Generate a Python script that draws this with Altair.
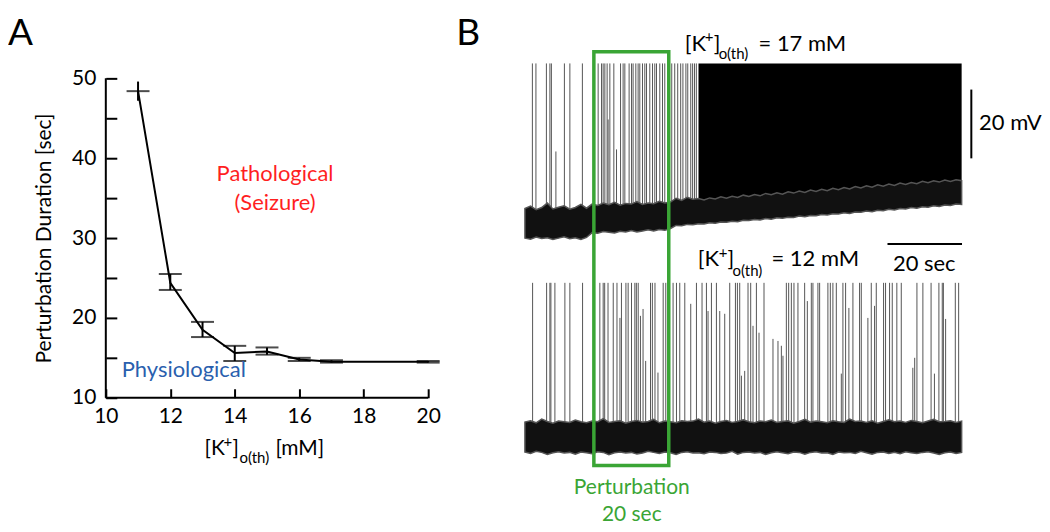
import altair as alt
import numpy as np
import pandas as pd

FONT = "Lato"
GREEN = "#3aa535"
RED = "#ff1f1f"
BLUE = "#2a5fae"

# ---------------- Panel A data ----------------
k_th = [11, 12, 13, 14, 15, 16, 17, 20]
dur_mean = [48.4, 24.4, 18.5, 15.6, 15.8, 14.8, 14.5, 14.5]
dur_lo = [47.2, 23.5, 17.6, 14.6, 15.4, 14.6, 14.4, 14.4]
dur_hi = [49.6, 25.5, 19.5, 16.5, 16.3, 15.0, 14.7, 14.6]
cap_style = ["mean", "ends", "ends", "ends", "ends", "ends", "ends", "ends"]
X_MIN, X_MAX, Y_MIN, Y_MAX = 10, 20, 10, 50
x_ticks_A = [10, 11, 12, 13, 14, 15, 16, 17, 18, 19, 20]      # labelled every 2
y_ticks_A = [10, 15, 20, 25, 30, 35, 40, 45, 50]              # labelled every 10
region_text = ["Pathological", "(Seizure)", "Physiological"]
region_x = [15.25, 15.25, 12.42]
region_y = [38.0, 34.4, 13.5]
region_color = [RED, RED, BLUE]

# ---------------- Panel B data ----------------
TRACE_END = 117.2          # s
PERT_START, PERT_END = 18.5, 38.6
SEIZURE_ONSET = 46.5
TOP_OFFSET = 62.5          # vertical display offset of the 17 mM trace (mV)
TOP_PEAK = -13.7
REST = -60.0

top_spike_t = [2.0, 2.95, 5.76, 6.70, 7.10, 8.31, 10.59, 12.06, 15.42,
               19.65, 20.56, 20.99, 21.45, 22.06, 22.33, 22.79, 23.86, 24.58, 25.66,
               26.35, 26.81, 27.96, 28.61, 29.03, 29.76, 30.38, 30.83, 31.55, 32.17,
               32.63, 33.51, 34.24, 34.85, 35.31, 36.19, 36.92, 37.53,
               39.4, 40.2, 41.0, 41.8, 42.4, 43.2, 43.7, 44.5, 45.0, 45.5, 46.0]
top_spike_peak = [-13.7, -13.7, -13.7, -13.7, -13.7, -39.3, -13.7, -13.7, -13.7,
                  -13.7, -13.7, -13.7, -13.7, -13.7, -30.0, -13.7, -13.7, -38.7, -13.7,
                  -13.7, -13.7, -13.7, -13.7, -13.7, -13.7, -13.7, -13.7, -13.7, -13.7,
                  -13.7, -13.7, -13.7, -13.7, -13.7, -13.7, -13.7, -13.7,
                  -13.7, -13.7, -13.7, -13.7, -13.7, -13.7, -13.7, -13.7, -13.7, -13.7, -13.7]

bot_spike_t = [2.06, 5.82, 6.70, 6.97, 8.04, 10.72, 12.06, 15.47,
               20.1, 21.0, 21.4, 22.3, 23.7, 24.7, 25.5, 25.9, 27.1, 27.7, 28.6, 29.5,
               29.9, 30.4, 31.0, 31.7, 32.4, 33.7, 34.2, 34.9, 35.7, 37.1, 37.8,
               39.76, 40.67, 41.55, 42.90, 44.50, 46.03, 47.53, 48.71, 49.14, 50.05,
               51.39, 52.28, 53.62, 54.96, 56.49, 57.02, 57.64, 58.10, 58.98, 59.87,
               60.59, 61.21, 62.12, 62.82, 64.16, 66.57, 67.91, 68.82, 69.25, 70.16,
               70.78, 71.50, 72.20, 73.27, 75.07, 75.79, 76.86, 77.29,
               78.63, 79.09, 81.31, 81.96, 82.65, 83.57, 84.91, 85.34, 86.06, 86.94,
               88.02, 89.81, 90.27, 92.04, 92.95, 93.83, 94.29, 96.25, 96.78, 97.86,
               98.58, 99.81, 101.0, 104.1, 104.6, 105.2, 106.8, 109.0, 109.9, 111.1,
               112.0, 112.3, 112.9, 115.5, 116.4]
bot_spike_peak = [-15.0, -15.0, -15.0, -15.0, -15.0, -15.0, -15.0, -15.0,
                  -15.0, -15.0, -15.0, -15.0, -15.0, -15.0, -25.2, -15.0, -15.0, -15.0, -15.0, -15.0,
                  -15.0, -15.0, -24.6, -22.6, -37.7, -15.0, -15.0, -15.0, -41.1, -15.0, -15.0,
                  -15.0, -15.0, -15.0, -15.0, -21.1, -15.0, -15.0, -15.0, -23.2, -15.0,
                  -15.0, -23.2, -24.0, -15.0, -15.0, -15.0, -15.0, -42.0, -40.6, -15.0,
                  -15.0, -27.5, -15.0, -29.5, -15.0, -31.3, -31.9, -33.3, -36.2, -15.0,
                  -15.0, -15.0, -15.0, -15.0, -15.0, -20.3, -15.0, -15.0,
                  -15.0, -15.0, -15.0, -15.0, -15.0, -15.0, -41.4, -15.0, -15.0, -22.3,
                  -15.0, -15.0, -15.0, -25.2, -15.0, -21.7, -15.0, -15.0, -15.0, -15.0,
                  -15.0, -15.0, -15.0, -39.7, -36.8, -15.0, -15.0, -15.0, -41.4, -15.0,
                  -15.0, -15.0, -25.5, -15.0, -15.0]

# noisy baseline envelopes (mV), sampled every ~1.5 s along the trace
top_lower = [-64.5, -64.8, -64.2, -64.6, -64.4, -64.9, -64.5, -64.1, -64.7, -64.4, -64.9, -64.3,
             -62.9, -63.1, -62.6, -62.8, -63.0, -62.5, -62.7, -62.3, -62.7, -62.4, -62.1, -62.4,
             -62.0, -62.2, -61.7,
             -60.8, -60.9, -60.5, -60.6, -60.3, -60.4, -60.0, -60.2, -59.8, -59.9, -59.6, -59.7,
             -59.3, -59.4, -59.1, -59.2, -58.8, -59.0, -58.6, -58.7, -58.4, -58.5, -58.1, -58.3,
             -57.9, -58.0, -57.6, -57.8, -57.4, -57.5, -57.1, -57.3, -56.9, -57.0, -56.6, -56.8,
             -56.4, -56.5, -56.1, -56.3, -55.9, -56.0, -55.6, -55.8, -55.4, -55.5, -55.1, -55.3,
             -54.9, -55.0, -54.6, -54.7]
top_upper = [-55.9, -55.2, -56.2, -55.6, -54.3, -56.0, -55.5, -55.1, -56.1, -55.6, -54.7, -55.8,
             -54.6, -55.0, -54.3, -54.8, -54.1, -54.9, -54.4, -54.6, -53.9, -54.7, -54.3, -54.5,
             -53.8, -54.3, -54.0,
             -52.9, -53.5, -52.6, -53.2,
             -53.0, -53.4, -52.8, -53.1, -52.5, -52.9, -52.3, -52.7, -52.0, -52.4, -51.8, -52.2,
             -51.5, -51.9, -51.3, -51.7, -51.0, -51.4, -50.8, -51.2, -50.5, -50.9, -50.3, -50.7,
             -50.0, -50.4, -49.8, -50.2, -49.5, -49.9, -49.3, -49.7, -49.0, -49.4, -48.8, -49.2,
             -48.5, -48.9, -48.3, -48.7, -48.0, -48.4, -47.8, -48.2, -47.6, -48.0, -47.5, -47.8]
bot_lower = [-64.2, -64.6, -64.0, -64.3, -64.9, -64.4, -64.1, -64.5, -64.3, -64.8,
             -64.2, -64.4, -64.7, -64.1, -64.3, -65.0, -64.4, -64.2, -64.5, -64.3,
             -64.8, -64.5, -64.0, -64.3, -64.6, -64.2, -64.4, -64.9, -64.3, -64.1,
             -64.5, -64.4, -64.7, -64.2, -64.3, -64.6, -64.5, -64.0, -64.8, -64.3,
             -64.2, -64.5, -64.3, -64.9, -64.4, -64.1, -64.4, -64.7, -64.2, -64.3,
             -64.8, -64.3, -64.1, -64.5, -64.4, -64.9, -64.2, -64.4, -64.3, -64.6,
             -64.0, -64.4, -64.8, -64.3, -64.2, -64.6, -64.3, -64.7, -64.1, -64.4,
             -64.6, -64.3, -64.1, -64.5, -64.9, -64.4, -64.2, -64.6, -64.3]
bot_upper = [-55.5, -55.1, -55.7, -54.6, -55.3, -55.8, -55.2, -55.4, -55.6, -54.9,
             -55.4, -55.7, -55.2, -55.4, -54.5, -55.6, -55.3, -55.1, -55.8, -55.3,
             -55.0, -55.5, -55.3, -54.7, -55.7, -55.2, -55.4, -55.7, -55.1, -55.3,
             -55.2, -54.6, -55.5, -55.2, -55.8, -55.3, -55.0, -55.6, -55.3, -54.8,
             -55.4, -55.7, -55.2, -55.4, -54.9, -55.6, -55.3, -55.1, -55.8, -55.3,
             -54.7, -55.5, -55.2, -55.4, -55.7, -55.1, -55.4, -55.6, -54.6, -55.3,
             -55.2, -55.6, -55.1, -55.8, -55.3, -54.8, -55.4, -55.2, -55.6, -55.0,
             -55.3, -55.7, -55.2, -54.7, -55.4, -55.3, -55.1, -55.6, -55.2]
env_t = np.linspace(0, TRACE_END, len(top_lower))

# scale bars / perturbation window
MV_BAR_T, MV_BAR_LO, MV_BAR_HI = 119.8, 21.2, 41.2
SEC_BAR_T0, SEC_BAR_T1, SEC_BAR_V = 97.3, 117.3, -3.7
BOX_V0, BOX_V1 = -68.1, 52.2

DUMMY = pd.DataFrame({"d": [0]})


def label(s, x, y, size, color="black", align="left", baseline="middle"):
    return alt.Chart(DUMMY).mark_text(
        text=s, font=FONT, fontSize=size, color=color, align=align, baseline=baseline
    ).encode(x=alt.value(x), y=alt.value(y))


# ================= Panel A =================
W_A, H_A = 323, 367
xA = alt.Scale(domain=[10, 20], nice=False, zero=False)
yA = alt.Scale(domain=[10, 55.875], nice=False, zero=False)
axis_common = dict(domain=False, ticks=True, tickColor="black", tickWidth=2, grid=False,
                   labelFont=FONT, labelFontSize=21, labelColor="black", labelFlush=False,
                   titleFont=FONT, titleFontSize=21, titleFontWeight="normal", titleColor="black")

dfA = pd.DataFrame({"k": k_th, "mean": dur_mean, "lo": dur_lo, "hi": dur_hi})
cap_rows = []
for k, m, lo, hi, st in zip(k_th, dur_mean, dur_lo, dur_hi, cap_style):
    if st == "mean":
        cap_rows.append({"k": k, "v": m})
    else:
        cap_rows += [{"k": k, "v": lo}, {"k": k, "v": hi}]
dfCaps = pd.DataFrame(cap_rows)

seg_rows = [{"xa": k, "xb": k, "ya": lo, "yb": hi} for k, lo, hi in zip(k_th, dur_lo, dur_hi)]
seg_rows.append({"xa": X_MIN, "xb": X_MIN, "ya": Y_MIN, "yb": Y_MAX})
dfSeg = pd.DataFrame(seg_rows)
dfBase = pd.DataFrame({"bx": [X_MIN, X_MAX], "by": [Y_MIN, Y_MIN]})

# axes are pulled inside the plot (negative offset) so their ticks point inward
lineA = alt.Chart(dfA).mark_line(color="black", strokeWidth=2).encode(
    x=alt.X("k:Q", scale=xA, axis=alt.Axis(
        values=x_ticks_A, title=None, offset=-9, tickSize=9, labelPadding=8,
        labelExpr="datum.value % 2 == 0 ? datum.label : ''", **axis_common)),
    y=alt.Y("mean:Q", scale=yA, axis=alt.Axis(
        values=y_ticks_A, title="Perturbation Duration [sec]", offset=-11, tickSize=11,
        labelPadding=10, titleX=-72, titleY=207, titleBaseline="middle",
        labelExpr="datum.value % 10 == 0 ? datum.label : ''", **axis_common)),
)
baseA = alt.Chart(dfBase).mark_line(color="black", strokeWidth=2).encode(
    x=alt.X("bx:Q", scale=xA), y=alt.Y("by:Q", scale=yA))
segA = alt.Chart(dfSeg).mark_rule(color="black", strokeWidth=2).encode(
    x=alt.X("xa:Q", scale=xA), x2="xb:Q", y=alt.Y("ya:Q", scale=yA), y2="yb:Q")
capsA = alt.Chart(dfCaps).mark_tick(orient="horizontal", size=23, thickness=2, color="black").encode(
    x=alt.X("k:Q", scale=xA), y=alt.Y("v:Q", scale=yA))
regA = alt.Chart(pd.DataFrame({"x": region_x, "y": region_y, "label": region_text, "c": region_color})).mark_text(
    font=FONT, fontSize=22).encode(
    x=alt.X("x:Q", scale=xA), y=alt.Y("y:Q", scale=yA),
    text="label:N", color=alt.Color("c:N", scale=None))

panelA = alt.layer(
    lineA, baseA, segA, capsA, regA,
    label("A", -98, -15.5, 37, baseline="top"),
    label("[K", 99, 418, 21),
    label("+", 118, 411, 15),
    label("]", 127, 418, 21),
    label("o(th)", 134, 427, 15),
    label("[mM]", 170, 418, 21),
).properties(width=W_A, height=H_A)

# ================= Panel B =================
W_B, H_B = 588, 491
xB = alt.Scale(domain=[-19, 138.5], nice=False, zero=False)
yB = alt.Scale(domain=[-84.4, 58.1], nice=False, zero=False)

spk = pd.DataFrame({
    "t": top_spike_t + bot_spike_t,
    "y0": [REST + TOP_OFFSET] * len(top_spike_t) + [REST] * len(bot_spike_t),
    "y1": [p + TOP_OFFSET for p in top_spike_peak] + bot_spike_peak,
})
band = pd.DataFrame({
    "t": list(env_t) + list(env_t),
    "lo": [v + TOP_OFFSET for v in top_lower] + bot_lower,
    "hi": [v + TOP_OFFSET for v in top_upper] + bot_upper,
    "trace": ["17 mM"] * len(env_t) + ["12 mM"] * len(env_t),
})
seiz = pd.DataFrame({"t": env_t, "lo": [v + TOP_OFFSET for v in top_lower]})
seiz = seiz[seiz["t"] >= SEIZURE_ONSET].copy()
seiz["hi"] = TOP_PEAK + TOP_OFFSET

spikes = alt.Chart(spk).mark_rule(color="#555555", strokeWidth=1).encode(
    x=alt.X("t:Q", scale=xB, axis=None), y=alt.Y("y0:Q", scale=yB, axis=None), y2="y1:Q")
seizure = alt.Chart(seiz).mark_area(color="black").encode(
    x=alt.X("t:Q", scale=xB, axis=None), y=alt.Y("lo:Q", scale=yB, axis=None), y2="hi:Q")
bands = alt.Chart(band).mark_area(color="#111111", stroke="#555555", strokeWidth=1.5).encode(
    x=alt.X("t:Q", scale=xB, axis=None), y=alt.Y("lo:Q", scale=yB, axis=None), y2="hi:Q",
    detail="trace:N")
box = alt.Chart(pd.DataFrame({"t0": [PERT_START], "t1": [PERT_END], "v0": [BOX_V0], "v1": [BOX_V1]})).mark_rect(
    fillOpacity=0, stroke=GREEN, strokeWidth=3.5).encode(
    x=alt.X("t0:Q", scale=xB, axis=None), x2="t1:Q", y=alt.Y("v0:Q", scale=yB, axis=None), y2="v1:Q")
mvbar = alt.Chart(pd.DataFrame({"t": [MV_BAR_T], "a": [MV_BAR_LO], "b": [MV_BAR_HI]})).mark_rule(
    color="black", strokeWidth=2).encode(
    x=alt.X("t:Q", scale=xB, axis=None), y=alt.Y("a:Q", scale=yB, axis=None), y2="b:Q")
secbar = alt.Chart(pd.DataFrame({"a": [SEC_BAR_T0], "b": [SEC_BAR_T1], "v": [SEC_BAR_V]})).mark_rule(
    color="black", strokeWidth=2).encode(
    x=alt.X("a:Q", scale=xB, axis=None), x2="b:Q", y=alt.Y("v:Q", scale=yB, axis=None))

panelB = alt.layer(
    spikes, seizure, bands, box, mvbar, secbar,
    label("B", 2, -15.5, 37, baseline="top"),
    label("[K", 231, 13, 22), label("+", 251, 6, 15), label("]", 260, 13, 22),
    label("o(th)", 265, 23, 15), label("= 17 mM", 305, 13, 22),
    label("[K", 244, 228, 22), label("+", 265, 222, 15), label("]", 274, 228, 22),
    label("o(th)", 279, 240, 15), label("= 12 mM", 318, 228, 22),
    label("20 mV", 526, 92, 22),
    label("20 sec", 471, 233, 22, align="center"),
    label("Perturbation", 178, 457, 21, color=GREEN, align="center"),
    label("20 sec", 178, 484, 21, color=GREEN, align="center"),
).properties(width=W_B, height=H_B)

chart = alt.hconcat(panelA, panelB, spacing=13).properties(
    padding={"left": 0, "top": 6, "right": 0, "bottom": 0}
).configure(font=FONT).configure_view(stroke=None)

chart.save("out.html", embed_options={"renderer": "svg", "actions": False})
